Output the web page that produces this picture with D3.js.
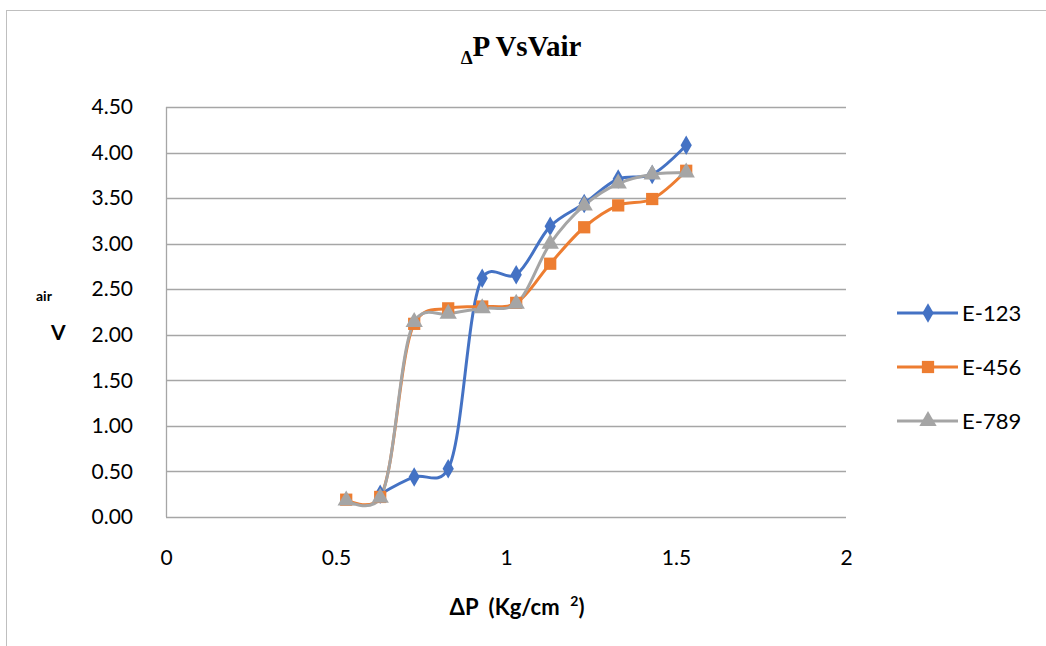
<!DOCTYPE html>
<html><head><meta charset="utf-8">
<script src="https://cdn.jsdelivr.net/npm/d3@7"></script>
<style>body{margin:0;background:#fff}svg{display:block}</style>
</head><body>
<svg id="c" width="1046" height="646"></svg>
<script>
const xValues = [0.53, 0.63, 0.73, 0.83, 0.93, 1.03, 1.13, 1.23, 1.33, 1.43, 1.53];
const e123 = [null, 0.25, 0.44, 0.53, 2.62, 2.66, 3.19, 3.44, 3.71, 3.76, 4.08];
const e456 = [0.19, 0.22, 2.12, 2.29, 2.31, 2.35, 2.78, 3.18, 3.42, 3.49, 3.80];
const e789 = [0.18, 0.21, 2.14, 2.23, 2.29, 2.34, 3.00, 3.42, 3.66, 3.76, 3.78];
const seriesNames = ["E-123", "E-456", "E-789"];
const xTicks = [0, 0.5, 1, 1.5, 2];
const yTicks = [0, 0.5, 1, 1.5, 2, 2.5, 3, 3.5, 4, 4.5];

const colors = ["#4472C4", "#ED7D31", "#A5A5A5"];
const shapes = [d3.symbolDiamond, d3.symbolSquare, d3.symbolTriangle];
const sizes = [110, 150, 130];
const series = [e123, e456, e789].map((v, i) => ({
  name: seriesNames[i],
  vals: v.map((y, j) => ({x: xValues[j], y})).filter(d => d.y != null)
}));

const svg = d3.select("#c");
const font = "Lato, 'Open Sans', sans-serif";
svg.append("rect").attr("x", 6.5).attr("y", 10.5).attr("width", 1100).attr("height", 700)
  .attr("fill", "none").attr("stroke", "#bfbfbf").attr("stroke-width", 1);

const x = d3.scaleLinear().domain([0, 2]).range([166, 846]);
const y = d3.scaleLinear().domain([0, 4.5]).range([517, 107]);

svg.append("g").selectAll("line").data(yTicks).join("line")
  .attr("x1", 166).attr("x2", 846)
  .attr("y1", d => Math.round(y(d)) + 0.5).attr("y2", d => Math.round(y(d)) + 0.5)
  .attr("stroke", "#a6a6a6").attr("stroke-width", 1.3);
svg.append("line").attr("x1", 166.5).attr("x2", 166.5).attr("y1", y(4.5)).attr("y2", y(0))
  .attr("stroke", "#a6a6a6").attr("stroke-width", 1.3);

const yAxis = d3.axisLeft(y).tickValues(yTicks).tickFormat(d3.format(".2f")).tickSize(0).tickPadding(33);
const gy = svg.append("g").attr("transform", "translate(166,0)").call(yAxis);
gy.select(".domain").remove();
gy.selectAll("text").attr("font-family", font).attr("font-size", 21).attr("fill", "#000");

const xAxis = d3.axisBottom(x).tickValues(xTicks).tickFormat(d => String(d)).tickSize(0).tickPadding(33);
const gx = svg.append("g").attr("transform", "translate(0,517)").call(xAxis);
gx.select(".domain").remove();
gx.selectAll("text").attr("font-family", font).attr("font-size", 21).attr("fill", "#000");

const line = d3.line().x(d => x(d.x)).y(d => y(d.y)).curve(d3.curveCatmullRom.alpha(0.25));
series.forEach((s, i) => {
  svg.append("path").datum(s.vals).attr("d", line).attr("fill", "none")
    .attr("stroke", colors[i]).attr("stroke-width", 3).attr("stroke-linejoin", "round");
});
series.forEach((s, i) => {
  svg.append("g").selectAll("path").data(s.vals).join("path")
    .attr("transform", d => `translate(${x(d.x)},${y(d.y)})`)
    .attr("d", d3.symbol().type(shapes[i]).size(sizes[i]))
    .attr("fill", colors[i]);
});

series.forEach((s, i) => {
  const ly = 313 + i * 54;
  const g = svg.append("g");
  g.append("line").attr("x1", 897).attr("x2", 958).attr("y1", ly).attr("y2", ly)
    .attr("stroke", colors[i]).attr("stroke-width", 3);
  g.append("path").attr("transform", `translate(928,${ly})`)
    .attr("d", d3.symbol().type(shapes[i]).size(sizes[i])).attr("fill", colors[i]);
  g.append("text").attr("x", 962).attr("y", ly + 8).attr("font-family", font)
    .attr("font-size", 22).attr("fill", "#000").text(s.name);
});

const t = svg.append("text").attr("x", 521).attr("y", 64).attr("text-anchor", "middle")
  .attr("font-family", "'Liberation Serif', serif").attr("font-weight", "bold").attr("font-size", 29);
t.append("tspan").attr("font-size", 19).attr("dy", 0).text("Δ");
t.append("tspan").attr("dy", -8).text("P VsVair");

svg.append("text").attr("x", 36).attr("y", 301).attr("font-family", font).attr("font-weight", "bold")
  .attr("font-size", 14).text("air");
svg.append("text").attr("x", 51).attr("y", 340).attr("font-family", font).attr("font-weight", "bold")
  .attr("font-size", 21).text("V");

const xl = svg.append("text").attr("x", 517).attr("y", 615).attr("text-anchor", "middle")
  .attr("font-family", font).attr("font-weight", "bold").attr("font-size", 22).attr("xml:space", "preserve");
xl.append("tspan").text("ΔP  (Kg/cm  ");
xl.append("tspan").attr("font-size", 14).attr("dy", -9).text("2");
xl.append("tspan").attr("dy", 9).text(")");
</script>
</body></html>
